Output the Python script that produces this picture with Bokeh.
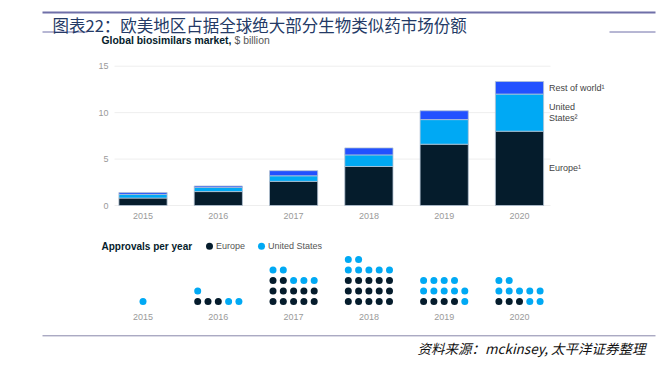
from bokeh.plotting import figure
from bokeh.models import ColumnDataSource, Range1d
from bokeh.core.properties import value
from bokeh.embed import file_html
from bokeh.resources import INLINE

# ---------------- data ----------------
years = [2015, 2016, 2017, 2018, 2019, 2020]
year_labels = ["2015", "2016", "2017", "2018", "2019", "2020"]
europe = [0.8, 1.5, 2.6, 4.2, 6.6, 8.0]
united_states = [0.4, 0.45, 0.6, 1.25, 2.65, 4.0]
rest_of_world = [0.2, 0.15, 0.55, 0.75, 0.95, 1.35]
y_ticks = [0, 5, 10, 15]
y_tick_labels = ["0", "5", "10", "15"]
series_labels = ["Europe¹", "United\nStates²", "Rest of world¹"]
eu_approvals = [0, 3, 12, 15, 4, 3]
us_approvals = [1, 3, 5, 7, 10, 9]

title_text = "图表22：欧美地区占据全球绝大部分生物类似药市场份额"
subtitle_bold = "Global biosimilars market,"
subtitle_regular = "$ billion"
approvals_title = "Approvals per year"
legend_labels = ["Europe", "United States"]
source_text = "资料来源：mckinsey, 太平洋证券整理"

C_EU = "#051C2C"
C_US = "#00A9F4"
C_ROW = "#2251FF"
LINE_C = "#6F6FA8"

# ---------------- layout helpers (page px -> data) ----------------
W, H = 660, 370
OX, OY = 0, 0
PX_PER_YEAR = 75.3
FIRST_YEAR_PX = 142.5
X0 = years[0] - (FIRST_YEAR_PX - OX) / PX_PER_YEAR
X1 = X0 + W / PX_PER_YEAR
ZERO_PY = 205.0
PX_PER_UNIT = 9.287
ROW0_PY = 301.0
ROW_PX = 10.5
COL_PX = 10.3


def gx(px):
    return X0 + (px - OX) / PX_PER_YEAR


def gy(py):
    return (ZERO_PY - py) / PX_PER_UNIT


def gr(py):
    return (ROW0_PY - py) / ROW_PX


p = figure(width=W, height=H, x_range=Range1d(X0, X1),
           y_range=Range1d(gy(OY + H), gy(OY)),
           x_axis_type=None, y_axis_type=None,
           output_backend="svg", toolbar_location=None,
           min_border=0, outline_line_color=None)
p.extra_y_ranges = {"dots": Range1d(gr(OY + H), gr(OY))}
p.background_fill_color = "white"
p.border_fill_color = "white"

LAT = value("Liberation Sans")
CJK = value("Noto Sans CJK SC")

# ---------------- header ----------------
p.segment(x0=[gx(42)], x1=[gx(655)], y0=[gy(12)], y1=[gy(12)], line_color=LINE_C, line_width=2)
p.segment(x0=[gx(42), gx(609)], x1=[gx(87), gx(655)], y0=[gy(31.5), gy(31.5)],
          y1=[gy(31.5), gy(31.5)], line_color=LINE_C, line_width=1)
p.text(x=[gx(52)], y=[gy(24.5)], text=[title_text], text_font=CJK, text_font_size="16.5px",
       text_color="#243A66", text_align="left", text_baseline="middle")
p.text(x=[gx(101)], y=[gy(40)], text=[subtitle_bold], text_font=LAT, text_font_style="bold",
       text_font_size="10.4px", text_color=C_EU, text_align="left", text_baseline="middle")
p.text(x=[gx(234)], y=[gy(40)], text=[subtitle_regular], text_font=LAT,
       text_font_size="10.4px", text_color="#555555", text_align="left", text_baseline="middle")

# ---------------- bar chart ----------------
p.segment(x0=[gx(114)] * len(y_ticks), x1=[gx(550)] * len(y_ticks), y0=y_ticks, y1=y_ticks,
          line_color="#EEEEEE", line_width=1)
p.text(x=[gx(108)] * len(y_ticks), y=y_ticks, text=y_tick_labels, text_font=LAT,
       text_font_size="9px", text_color="#9A9A9A", text_align="right", text_baseline="middle")

src = ColumnDataSource(dict(year=years, europe=europe, us=united_states, row=rest_of_world))
p.vbar_stack(["europe", "us", "row"], x="year", width=0.64, source=src,
             fill_color=[C_EU, C_US, C_ROW], line_color="#B4C3D3", line_width=0.8)

p.text(x=years, y=[gy(215.5)] * len(years), text=year_labels, text_font=LAT,
       text_font_size="9px", text_color="#9A9A9A", text_align="center", text_baseline="middle")

# series labels next to the last bar, at segment midpoints
last_eu, last_us, last_row = europe[-1], united_states[-1], rest_of_world[-1]
mids = [last_eu / 2, last_eu + last_us / 2, last_eu + last_us + last_row / 2]
lab_x = years[-1] + 0.32 + 5.5 / PX_PER_YEAR
p.text(x=[lab_x] * 3, y=mids, text=series_labels, text_font=LAT, text_font_size="9px",
       text_color="#444444", text_align="left", text_baseline="middle", text_line_height=1.15)

# ---------------- approvals dot chart ----------------
p.text(x=[gx(101)], y=[gy(245.7)], text=[approvals_title], text_font=LAT, text_font_style="bold",
       text_font_size="10px", text_color=C_EU, text_align="left", text_baseline="middle")
p.scatter(x=[gx(209), gx(261)], y=[gy(245.7)] * 2, size=7, fill_color=[C_EU, C_US],
          line_color=None)
p.text(x=[gx(215.5), gx(267.5)], y=[gy(245.7)] * 2, text=legend_labels, text_font=LAT,
       text_font_size="9px", text_color="#555555", text_align="left", text_baseline="middle")

dx, dy, dc = [], [], []
for yr, ne, nu in zip(years, eu_approvals, us_approvals):
    total = ne + nu
    ncols = min(5, total)
    for i in range(total):
        r, c = divmod(i, 5)
        dx.append(yr + (c - (ncols - 1) / 2) * COL_PX / PX_PER_YEAR)
        dy.append(r)
        dc.append(C_EU if i < ne else C_US)
p.scatter(x=dx, y=dy, size=7, fill_color=dc, line_color=None, y_range_name="dots")

p.text(x=years, y=[gr(316)] * len(years), text=year_labels, text_font=LAT,
       text_font_size="9px", text_color="#9A9A9A", text_align="center", text_baseline="middle",
       y_range_name="dots")

# ---------------- footer ----------------
p.segment(x0=[gx(42)], x1=[gx(655)], y0=[gy(335.3)], y1=[gy(335.3)], line_color="#8886AA",
          line_width=1)
p.text(x=[gx(645)], y=[gy(347)], text=[source_text], text_font=CJK, text_font_style="italic",
       text_font_size="13.5px", text_color="#111111", text_align="right", text_baseline="middle")

open("out.html", "w").write(file_html(p, INLINE))
